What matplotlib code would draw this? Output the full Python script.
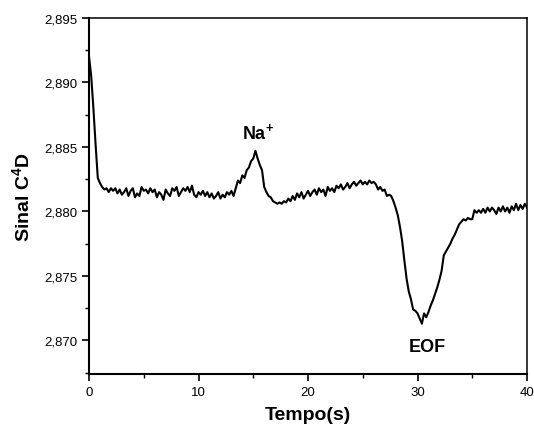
import matplotlib
matplotlib.use("Agg")
import matplotlib.pyplot as plt
from matplotlib.ticker import FuncFormatter, MultipleLocator

plt.rcParams["font.family"] = ["Liberation Sans", "DejaVu Sans"]
plt.rcParams["mathtext.fontset"] = "custom"
plt.rcParams["mathtext.rm"] = "Liberation Sans"
plt.rcParams["mathtext.bf"] = "Liberation Sans:bold"
plt.rcParams["mathtext.default"] = "bf"

# time axis: 0 to 40 s, one reading every 0.2 s
tempo = [i * 0.2 for i in range(201)]

# C4D signal (one row = 2 s)
sinal = [
    2.8920, 2.8905, 2.8880, 2.8852, 2.8826, 2.8822, 2.8819, 2.8817, 2.8818, 2.8815,
    2.8818, 2.8816, 2.8818, 2.8814, 2.8817, 2.8813, 2.8815, 2.8818, 2.8812, 2.8816,
    2.8818, 2.8811, 2.8814, 2.8812, 2.8819, 2.8816, 2.8817, 2.8814, 2.8818, 2.8815,
    2.8817, 2.8811, 2.8815, 2.8813, 2.8809, 2.8817, 2.8814, 2.8812, 2.8818, 2.8816,
    2.8819, 2.8812, 2.8815, 2.8818, 2.8816, 2.8819, 2.8815, 2.8820, 2.8813, 2.8811,
    2.8815, 2.8813, 2.8816, 2.8812, 2.8815, 2.8811, 2.8814, 2.8810, 2.8812, 2.8815,
    2.8810, 2.8813, 2.8811, 2.8815, 2.8813, 2.8816, 2.8812, 2.8818, 2.8824, 2.8822,
    2.8828, 2.8826, 2.8832, 2.8834, 2.8839, 2.8841, 2.8847, 2.8841, 2.8836, 2.8832,
    2.8819, 2.8815, 2.8812, 2.8811, 2.8808, 2.8807, 2.8806, 2.8807, 2.8806, 2.8808,
    2.8807, 2.8810, 2.8808, 2.8812, 2.8809, 2.8814, 2.8811, 2.8815, 2.8810, 2.8813,
    2.8816, 2.8812, 2.8815, 2.8817, 2.8813, 2.8818, 2.8815, 2.8817, 2.8812, 2.8819,
    2.8816, 2.8818, 2.8815, 2.8820, 2.8818, 2.8821, 2.8817, 2.8819, 2.8822, 2.8818,
    2.8821, 2.8823, 2.8820, 2.8822, 2.8824, 2.8821, 2.8823, 2.8821, 2.8824, 2.8822,
    2.8823, 2.8821, 2.8817, 2.8819, 2.8816, 2.8817, 2.8812, 2.8813, 2.8812, 2.8808,
    2.8803, 2.8797, 2.8788, 2.8777, 2.8762, 2.8748, 2.8738, 2.8732, 2.8724, 2.8723,
    2.8721, 2.8717, 2.8713, 2.8721, 2.8718, 2.8722, 2.8727, 2.8731, 2.8736, 2.8741,
    2.8747, 2.8754, 2.8766, 2.8769, 2.8772, 2.8775, 2.8779, 2.8782, 2.8786, 2.8790,
    2.8792, 2.8794, 2.8793, 2.8795, 2.8794, 2.8794, 2.8801, 2.8799, 2.8801, 2.8799,
    2.8802, 2.8799, 2.8803, 2.8800, 2.8803, 2.8801, 2.8798, 2.8803, 2.8800, 2.8804,
    2.8800, 2.8803, 2.8799, 2.8804, 2.8801, 2.8806, 2.8801, 2.8805, 2.8802, 2.8806,
    2.8803,
]

peak_labels = [r"Na$^{+}$", "EOF"]
peak_x = [15.4, 30.9]
peak_y = [2.8862, 2.8695]

fig = plt.figure(figsize=(5.34, 4.27), dpi=100)
ax = fig.add_axes([0.1667, 0.1218, 0.8202, 0.8337])

ax.plot(tempo, sinal, color="black", linewidth=1.5)

ax.set_xlim(0, 40)
ax.set_ylim(2.8674, 2.895)
ax.xaxis.set_major_locator(MultipleLocator(10))
ax.xaxis.set_minor_locator(MultipleLocator(5))
ax.yaxis.set_major_locator(MultipleLocator(0.005))
ax.yaxis.set_minor_locator(MultipleLocator(0.0025))
ax.yaxis.set_major_formatter(FuncFormatter(lambda v, _: f"{v:.3f}".replace(".", ",")))
ax.xaxis.set_major_formatter(FuncFormatter(lambda v, _: f"{v:.0f}"))

ax.tick_params(which="both", direction="out", top=False, right=False, labelsize=9.5)
ax.tick_params(which="major", length=5, width=1.2)
ax.tick_params(which="minor", length=3, width=1.0)
for side in ["left", "bottom"]:
    ax.spines[side].set_linewidth(1.5)
for side in ["top", "right"]:
    ax.spines[side].set_linewidth(1.1)

ax.set_xlabel("Tempo(s)", fontsize=14, fontweight="bold", labelpad=6)
ax.set_ylabel(r"Sinal C$^{4}$D", fontsize=14, fontweight="bold", labelpad=8)

for label, x, y in zip(peak_labels, peak_x, peak_y):
    ax.text(x, y, label, fontsize=13, fontweight="bold", ha="center", va="center")

fig.savefig("out.png", dpi=100)
